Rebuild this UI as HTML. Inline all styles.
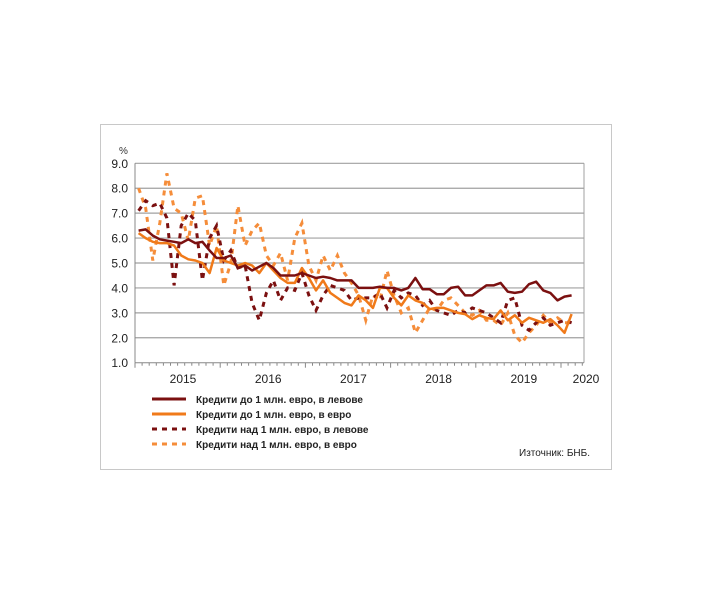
<!DOCTYPE html>
<html><head><meta charset="utf-8">
<style>
html,body{margin:0;padding:0;background:#fff;}
svg{display:block;font-family:"Liberation Sans",Arial,sans-serif;}
</style></head>
<body>
<svg id="c" width="710" height="599" viewBox="0 0 710 599" xmlns="http://www.w3.org/2000/svg">
<rect x="100.5" y="124.5" width="511" height="345" fill="#fff" stroke="#c8c8c8"/>
<g id="grid"></g>
<g id="series"></g>
<text x="119" y="154" font-size="10" fill="#333">%</text>
<g font-size="10" font-weight="bold" fill="#222">
<line x1="152" y1="399" x2="186" y2="399" stroke="#7b1010" stroke-width="3"/>
<text x="196" y="403">Кредити до 1 млн. евро, в левове</text>
<line x1="152" y1="414" x2="186" y2="414" stroke="#f07a1a" stroke-width="3"/>
<text x="196" y="418">Кредити до 1 млн. евро, в евро</text>
<line x1="152" y1="429" x2="186" y2="429" stroke="#7b1010" stroke-width="3" stroke-dasharray="5,5"/>
<text x="196" y="433">Кредити над 1 млн. евро, в левове</text>
<line x1="152" y1="444" x2="186" y2="444" stroke="#f58d3a" stroke-width="3" stroke-dasharray="5,5"/>
<text x="196" y="448">Кредити над 1 млн. евро, в евро</text>
</g>
<text x="590" y="456" text-anchor="end" font-size="10" fill="#222">Източник: БНБ.</text>
</svg>
<script>
var NS="http://www.w3.org/2000/svg";
function el(p,t,a){var e=document.createElementNS(NS,t);for(var k in a)e.setAttribute(k,a[k]);p.appendChild(e);return e;}
var g=document.getElementById('grid'),s=document.getElementById('series');
var L=135,R=584,T=163.3,B=362.7;
function Y(v){return B-(v-1)*(B-T)/8;}
function X(i){return L+(i+0.5)*7.1;}
for(var v=1;v<=9;v++){
 var y=Y(v);
 if(v>1) el(g,'line',{x1:L,y1:y,x2:R,y2:y,stroke:'#a0a0a0','stroke-width':1.2});
 var t=el(g,'text',{x:L-7,y:y+4.5,'text-anchor':'end','font-size':12,fill:'#222'});t.textContent=v.toFixed(1);
}
el(g,'line',{x1:L,y1:T,x2:L,y2:B,stroke:'#888'});
el(g,'line',{x1:R,y1:T,x2:R,y2:B,stroke:'#a0a0a0'});
el(g,'line',{x1:L,y1:B,x2:R,y2:B,stroke:'#888'});
for(var m=0;m<=63;m++){var x=L+m*7.1;el(g,'line',{x1:x,y1:B,x2:x,y2:B+(m%12==0?5:3),stroke:'#888'});}
var yrs=['2015','2016','2017','2018','2019'];
for(var i=0;i<5;i++){var t=el(g,'text',{x:L+i*85.2+48,y:383,'text-anchor':'middle','font-size':12,fill:'#222'});t.textContent=yrs[i];}
var t=el(g,'text',{x:586,y:383,'text-anchor':'middle','font-size':12,fill:'#222'});t.textContent='2020';
var d1=[6.3,6.35,6.1,5.95,5.9,5.85,5.8,5.95,5.8,5.85,5.5,5.2, 5.2,5.3,4.8,4.9,4.7,4.85,5.0,4.8,4.5,4.5,4.5,4.6, 4.5,4.4,4.45,4.4,4.3,4.3,4.3,4.0,4.0,4.0,4.05,4.0, 4.0,3.9,4.0,4.4,3.95,3.95,3.75,3.75,4.0,4.05,3.7,3.7, 3.9,4.1,4.1,4.2,3.85,3.8,3.85,4.15,4.25,3.9,3.8,3.5, 3.65,3.7];
var o1=[6.2,6.0,5.85,5.8,5.8,5.7,5.3,5.15,5.1,5.0,4.6,5.6, 5.1,5.0,4.9,5.0,4.9,4.6,5.0,4.7,4.4,4.2,4.2,4.8, 4.4,3.9,4.3,3.8,3.6,3.4,3.3,3.7,3.5,3.2,4.0,4.0, 3.6,3.3,3.7,3.5,3.4,3.15,3.2,3.2,3.1,3.0,2.95,2.75, 2.9,2.8,2.75,3.1,2.7,2.9,2.6,2.8,2.7,2.6,2.75,2.5, 2.2,2.95];
var d2=[7.1,7.5,7.3,7.4,6.8,4.1,6.5,7.0,6.7,4.3,6.0,6.5, 5.1,5.5,4.8,4.9,3.4,2.7,3.8,4.3,3.5,4.0,3.9,4.6, 3.7,3.1,3.7,4.1,4.0,3.9,3.5,3.6,3.6,3.6,3.8,3.2, 3.9,3.6,3.8,3.7,3.3,3.5,3.1,3.0,2.9,3.1,3.0,3.2, 3.1,3.0,2.8,2.6,3.5,3.6,2.5,2.3,2.6,2.8,2.5,2.6, 2.7,2.6];
var o2=[8.0,7.2,5.1,6.6,8.6,7.2,7.0,5.9,7.6,7.7,5.7,6.5, 4.1,5.0,7.3,5.7,6.3,6.6,5.3,4.9,5.4,4.3,6.0,6.6, 4.9,4.3,5.3,4.7,5.3,4.6,4.2,3.7,2.7,3.7,3.5,4.7, 3.7,3.0,3.2,2.2,2.7,3.2,3.1,3.5,3.6,3.3,3.0,2.9, 3.1,2.7,2.7,2.5,3.0,2.1,1.8,2.2,2.5,2.9,2.6,2.8, 2.6,2.6];
function pts(a){return a.map(function(v,i){return X(i).toFixed(1)+','+Y(v).toFixed(1);}).join(' ');}
el(s,'polyline',{points:pts(o2),fill:'none',stroke:'#f58d3a','stroke-width':3,'stroke-dasharray':'5,5'});
el(s,'polyline',{points:pts(d2),fill:'none',stroke:'#7b1010','stroke-width':3,'stroke-dasharray':'5,5'});
el(s,'polyline',{points:pts(o1),fill:'none',stroke:'#f07a1a','stroke-width':2.5,'stroke-linejoin':'round'});
el(s,'polyline',{points:pts(d1),fill:'none',stroke:'#7b1010','stroke-width':2.5,'stroke-linejoin':'round'});
</script>
</body></html>
